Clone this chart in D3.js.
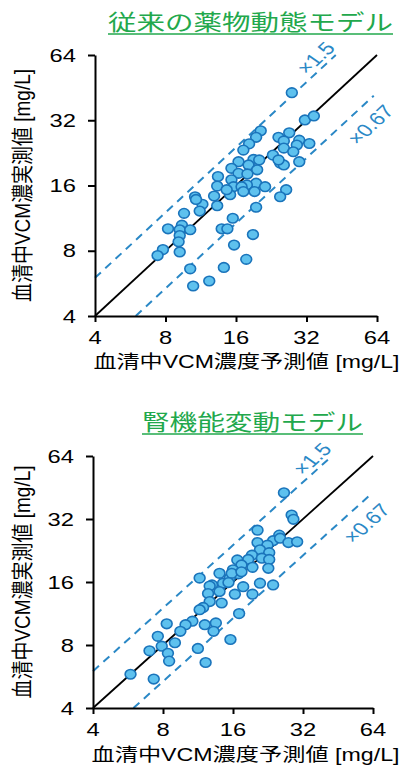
<!DOCTYPE html>
<html><head><meta charset="utf-8">
<script src="https://cdn.jsdelivr.net/npm/d3@7"></script>
<style>body{margin:0;background:#fff}svg{display:block}</style>
</head><body>
<svg id="chart" width="401" height="765"></svg>
<script>
// ---- data ----
const ticks = [4, 8, 16, 32, 64];
const titles = ["従来の薬物動態モデル", "腎機能変動モデル"];
const xLabel = "血清中VCM濃度予測値 [mg/L]";
const yLabel = "血清中VCM濃実測値 [mg/L]";
const bandUpper = 1.5;
const bandLower = 0.67;
const bandLabels = ["×1.5", "×0.67"];

// panel 1: 従来の薬物動態モデル
const pred1 = [27.7,31.5,34.4,20.4,19.5,18.2,17.2,27.0,24.3,25.6,29.8,29.1,32.9,25.6,28.1,29.8,23.0,24.7,25.6,24.3,
  16.4,19.0,20.1,18.1,19.7,15.3,16.4,17.9,13.4,13.3,15.3,17.7,19.5,21.3,26.2,15.6,12.9,10.7,24.7,11.5,
  13.3,15.1,11.2,19.5,9.6,15.5,8.2,9.4,9.2,10.2,9.2,9.1,13.9,14.7,18.9,15.7,7.8,7.4,9.2,17.7,
  10.2,14.2,12.3,10.5,10.8,17.8,14.6,16.9,17.2,19.2];
const meas1 = [42.9,32.1,33.5,28.6,26.7,24.9,23.3,28.0,26.7,25.7,25.9,24.6,25.0,23.8,22.9,20.6,22.1,20.3,19.9,21.0,
  20.6,21.1,21.0,19.9,18.9,19.2,18.2,18.1,17.6,15.9,17.0,15.9,16.4,15.8,15.3,15.8,14.3,14.2,14.2,13.1,
  12.9,14.5,12.2,12.7,11.9,11.3,10.1,10.5,10.0,10.0,9.4,8.8,10.1,10.1,9.5,8.5,8.1,7.6,7.9,7.3,
  6.6,6.7,5.8,5.5,13.8,16.1,15.3,15.8,15.0,15.0];

// panel 2: 腎機能変動モデル
const pred2 = [26.5,28.6,29.1,20.4,25.3,23.8,25.5,27.7,30.2,20.4,22.5,20.9,19.3,22.9,21.3,18.6,22.9,16.7,17.4,19.4,
  22.7,16.0,16.9,14.0,11.5,15.5,13.0,14.5,20.9,23.8,15.8,17.4,12.7,15.3,17.7,12.5,14.0,16.3,19.4,12.7,
  14.3,11.9,11.5,17.0,10.7,10.0,9.5,8.3,12.1,13.5,13.2,7.6,9.0,7.9,7.0,8.4,8.5,11.3,15.6,12.2,
  5.8,7.3];
const meas2 = [42.7,33.4,31.9,28.3,26.8,25.2,25.9,24.7,24.9,24.7,24.0,22.8,21.5,22.1,20.8,20.5,20.5,20.4,19.3,18.8,
  18.6,18.3,17.5,17.6,16.7,16.7,15.5,15.8,15.8,15.5,17.6,17.9,15.3,15.9,15.2,14.1,14.4,14.0,14.0,12.9,
  12.7,12.1,11.8,11.3,10.4,10.0,9.3,10.1,10.0,10.2,9.3,8.8,8.2,7.9,7.5,7.3,6.7,7.7,8.5,6.6,
  5.8,5.5];

// annotation positions (data coords)
const annUpper = [35, 62];
const annLower = [60, 30.5];

// ---- drawing ----
const SX = 1.25; // horizontal stretch of the original picture
const blue = "#2a88c6", green = "#22a84c";
const font = "'Liberation Sans', Arial, 'Noto Sans CJK JP', sans-serif";
const svg = d3.select("#chart");

const panels = [
  {title: titles[0], pred: pred1, meas: meas1, x0: 95, x1: 377, y0: 316, y1: 55,
   titleX: 250.5, titleY: 30, titleW: 285, underY: 34, xTickY: 337.5, xLabY: 368},
  {title: titles[1], pred: pred2, meas: meas2, x0: 93, x1: 373, y0: 708, y1: 456,
   titleX: 252.5, titleY: 430, titleW: 221, underY: 434, xTickY: 729.5, xLabY: 761}
];

function sText(g, x, y, str, size, opts = {}) {
  const t = g.append("text")
    .attr("transform", `translate(${x},${y}) scale(${SX},1)` + (opts.rot ? ` rotate(${opts.rot})` : ""))
    .attr("text-anchor", opts.anchor || "middle")
    .attr("dy", "0.35em")
    .attr("font-family", font)
    .attr("font-size", size)
    .attr("fill", opts.fill || "#000")
    .text(str);
  if (opts.len) t.attr("textLength", opts.len).attr("lengthAdjust", "spacingAndGlyphs");
  return t;
}

panels.forEach(p => {
  const g = svg.append("g");
  const x = d3.scaleLog().base(2).domain([4, 64]).range([p.x0, p.x1]);
  const y = d3.scaleLog().base(2).domain([4, 64]).range([p.y0, p.y1]);

  // title
  g.append("text").attr("x", p.titleX).attr("y", p.titleY)
    .attr("text-anchor", "middle").attr("font-family", font).attr("font-size", 22)
    .attr("fill", green).attr("textLength", p.titleW).attr("lengthAdjust", "spacingAndGlyphs")
    .text(p.title);
  g.append("line").attr("x1", p.titleX - p.titleW / 2).attr("x2", p.titleX + p.titleW / 2)
    .attr("y1", p.underY).attr("y2", p.underY).attr("stroke", green).attr("stroke-width", 1.6);

  // reference lines
  const line = d3.line().x(d => x(d[0])).y(d => y(d[1]));
  g.append("path").datum([[4, 4 * bandUpper], [64 / bandUpper, 64]])
    .attr("d", line).attr("fill", "none").attr("stroke", blue)
    .attr("stroke-width", 2).attr("stroke-dasharray", "8,6");
  g.append("path").datum([[4 / bandLower, 4], [62, 62 * bandLower]])
    .attr("d", line).attr("fill", "none").attr("stroke", blue)
    .attr("stroke-width", 2).attr("stroke-dasharray", "8,6");
  g.append("path").datum([[4, 4], [64, 64]])
    .attr("d", line).attr("fill", "none").attr("stroke", "#000").attr("stroke-width", 1.8);

  // band labels
  const ang = Math.atan2(y(8) - y(4), (x(8) - x(4)) / SX) * 180 / Math.PI;
  sText(g, x(annUpper[0]), y(annUpper[1]), bandLabels[0], 18, {fill: blue, rot: ang});
  sText(g, x(annLower[0]), y(annLower[1]), bandLabels[1], 18, {fill: blue, rot: ang});

  // points
  const pts = p.pred.map((v, i) => [v, p.meas[i]]);
  g.append("g").selectAll("ellipse").data(pts).join("ellipse")
    .attr("cx", d => x(d[0])).attr("cy", d => y(d[1]))
    .attr("rx", 5.4).attr("ry", 4.8)
    .attr("fill", "#5ec1ee").attr("stroke", "#1a74bb").attr("stroke-width", 1.6);

  // axes
  const ax = g.append("g").attr("transform", `translate(0,${p.y0})`)
    .call(d3.axisBottom(x).tickValues(ticks).tickFormat("").tickSize(6).tickSizeOuter(0));
  const ay = g.append("g").attr("transform", `translate(${p.x0},0)`)
    .call(d3.axisLeft(y).tickValues(ticks).tickFormat("").tickSize(7).tickSizeOuter(0));
  [ax, ay].forEach(a => {
    a.select(".domain").attr("stroke", "#000").attr("stroke-width", 2);
    a.selectAll(".tick line").attr("stroke", "#000").attr("stroke-width", 2);
  });

  // tick labels
  ticks.forEach(t => {
    sText(g, x(t), p.xTickY, d3.format("d")(t), 19);
    sText(g, p.x0 - 19, y(t), d3.format("d")(t), 19, {anchor: "end"});
  });

  // axis titles
  g.append("text").attr("x", (p.x0 + 398) / 2).attr("y", p.xLabY)
    .attr("text-anchor", "middle").attr("font-family", font).attr("font-size", 18)
    .attr("textLength", 398 - p.x0 + 3).attr("lengthAdjust", "spacingAndGlyphs")
    .text(xLabel);
  sText(g, 23, (p.y0 + p.y1) / 2, yLabel, 17, {rot: -90, len: 233});
});
</script>
</body></html>
